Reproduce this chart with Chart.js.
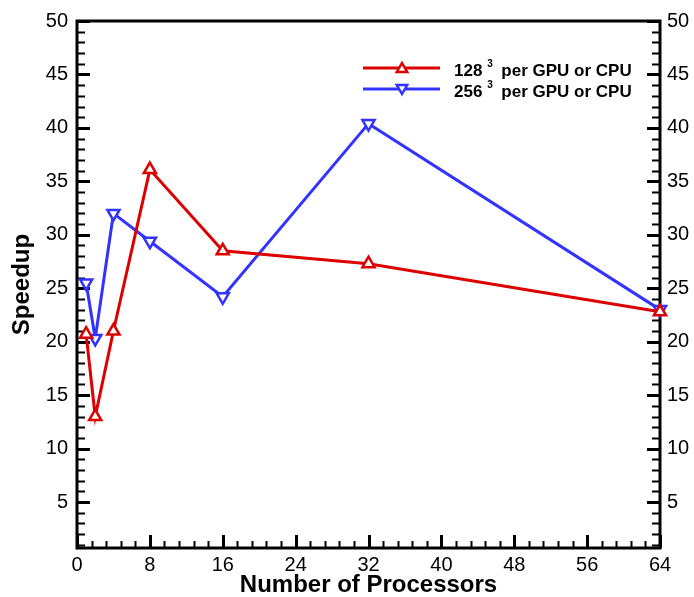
<!DOCTYPE html>
<html>
<head>
<meta charset="utf-8">
<script src="https://cdn.jsdelivr.net/npm/chart.js@4.4.1/dist/chart.umd.min.js"></script>
<style>
    html, body { margin: 0; padding: 0; background: #fff; }
    #speedupChart { display: block; }
</style>
</head>
<body>
<canvas id="speedupChart" width="694" height="597"></canvas>
<script>
const processors = [1, 2, 4, 8, 16, 32, 64]
const speedup128 = [20.7, 13.0, 21.0, 36.1, 28.5, 27.3, 22.8]
const speedup256 = [25.5, 20.3, 32.0, 29.4, 24.2, 40.4, 23.0]
const gridSizes = ['128', '256']
const legendSuffix = 'per GPU or CPU'
const xTickValues = [0, 8, 16, 24, 32, 40, 48, 56, 64]
const yTickValues = [5, 10, 15, 20, 25, 30, 35, 40, 45, 50]

const RED = '#dd0000'
const BLUE = '#3333ff'
const FONT = '"Liberation Sans", Arial, sans-serif'

const toPoints = (ys) => processors.map((x, i) => ({ x: x, y: ys[i] }))

function triangle(ctx, x, y, r, down) {
    const s = down ? -1 : 1
    ctx.beginPath()
    ctx.moveTo(x, y - s * r)
    ctx.lineTo(x + r * 0.866, y + s * r * 0.5)
    ctx.lineTo(x - r * 0.866, y + s * r * 0.5)
    ctx.closePath()
    ctx.fillStyle = '#fff'
    ctx.fill()
    ctx.stroke()
}

// frame + inward tick marks (major and minor) on left, right and bottom
const frameTicks = {
    id: 'frameTicks',
    beforeDatasetsDraw(chart) {
        const { ctx, chartArea: a, scales } = chart
        const xs = scales.x
        const ys = scales.y
        ctx.save()
        ctx.strokeStyle = '#000'
        ctx.lineCap = 'butt'

        ctx.lineWidth = 2
        for (let v = 1; v < 50; v++) {
            if (v % 5 === 0) continue
            const py = Math.round(ys.getPixelForValue(v)) + 0.5
            ctx.beginPath()
            ctx.moveTo(a.left, py); ctx.lineTo(a.left + 8, py)
            ctx.moveTo(a.right, py); ctx.lineTo(a.right - 8, py)
            ctx.stroke()
        }
        for (let k = 1; k < 40; k++) {
            if (k % 5 === 0) continue
            const px = Math.round(xs.getPixelForValue(k * 1.6)) + 0.5
            ctx.beginPath()
            ctx.moveTo(px, a.bottom); ctx.lineTo(px, a.bottom - 7)
            ctx.stroke()
        }

        ctx.lineWidth = 3
        yTickValues.forEach((v) => {
            const py = Math.round(ys.getPixelForValue(v)) + 0.5
            ctx.beginPath()
            ctx.moveTo(a.left, py); ctx.lineTo(a.left + 13, py)
            ctx.moveTo(a.right, py); ctx.lineTo(a.right - 13, py)
            ctx.stroke()
        })
        xTickValues.forEach((v) => {
            const px = Math.round(xs.getPixelForValue(v)) + 0.5
            ctx.beginPath()
            ctx.moveTo(px, a.bottom); ctx.lineTo(px, a.bottom - 13)
            ctx.stroke()
        })

        ctx.lineWidth = 3
        ctx.strokeRect(a.left, a.top, a.right - a.left, a.bottom - a.top)
        ctx.restore()
    }
}

// legend with a line sample, marker and superscript exponent
const sampleLegend = {
    id: 'sampleLegend',
    afterDraw(chart) {
        const { ctx, chartArea: a } = chart
        const colors = [RED, BLUE]
        const x0 = a.left + 286
        ctx.save()
        gridSizes.forEach((size, i) => {
            const y = a.top + 47 + i * 21
            ctx.strokeStyle = colors[i]
            ctx.lineWidth = 3
            ctx.beginPath()
            ctx.moveTo(x0, y); ctx.lineTo(x0 + 77, y)
            ctx.stroke()
            ctx.lineWidth = 2.5
            triangle(ctx, x0 + 39, y + (i ? -1 : 1), 6, i === 1)

            ctx.fillStyle = '#000'
            ctx.textBaseline = 'alphabetic'
            ctx.textAlign = 'left'
            ctx.font = 'bold 17px ' + FONT
            const tx = x0 + 91
            const by = y + 8
            ctx.fillText(size, tx, by)
            const w = ctx.measureText(size).width
            ctx.font = 'bold 10px ' + FONT
            ctx.fillText('3', tx + w + 5, by - 9)
            ctx.font = 'bold 17px ' + FONT
            ctx.fillText(legendSuffix, tx + w + 19, by)
        })
        ctx.restore()
    }
}

const tickFont = { family: FONT, size: 20 }
const titleFont = { family: FONT, size: 24, weight: 'bold', lineHeight: 1 }

new Chart(document.getElementById('speedupChart'), {
    type: 'line',
    data: {
        datasets: [
            {
                label: gridSizes[0] + '^3 ' + legendSuffix,
                data: toPoints(speedup128),
                borderColor: RED,
                borderWidth: 3,
                pointStyle: 'triangle',
                pointRadius: 7,
                pointBorderWidth: 2.5,
                pointBackgroundColor: '#fff',
                pointBorderColor: RED,
                clip: false
            },
            {
                label: gridSizes[1] + '^3 ' + legendSuffix,
                data: toPoints(speedup256),
                borderColor: BLUE,
                borderWidth: 3,
                pointStyle: 'triangle',
                pointRotation: 180,
                pointRadius: 7,
                pointBorderWidth: 2.5,
                pointBackgroundColor: '#fff',
                pointBorderColor: BLUE,
                clip: false
            }
        ]
    },
    options: {
        responsive: false,
        animation: false,
        layout: { padding: { top: 17, left: 0, right: 0, bottom: 0 } },
        plugins: {
            legend: { display: false },
            tooltip: { enabled: false }
        },
        scales: {
            x: {
                type: 'linear',
                min: 0,
                max: 64,
                afterBuildTicks: (s) => { s.ticks = xTickValues.map((v) => ({ value: v })) },
                afterFit: (s) => { s.height = 49 },
                grid: { display: false, drawTicks: false },
                border: { display: false },
                ticks: { color: '#000', font: tickFont, padding: 5, maxRotation: 0 },
                title: {
                    display: true,
                    text: 'Number of Processors',
                    color: '#000',
                    font: titleFont,
                    padding: { top: 0, bottom: 0 }
                }
            },
            y: {
                type: 'linear',
                position: 'left',
                min: 0.7,
                max: 50,
                afterBuildTicks: (s) => { s.ticks = yTickValues.map((v) => ({ value: v })) },
                afterFit: (s) => { s.width = 77 },
                grid: { display: false, drawTicks: false },
                border: { display: false },
                ticks: { color: '#000', font: tickFont, padding: 9 },
                title: {
                    display: true,
                    text: 'Speedup',
                    color: '#000',
                    font: titleFont,
                    padding: { top: 10, bottom: 0 }
                }
            },
            y2: {
                type: 'linear',
                position: 'right',
                min: 0.7,
                max: 50,
                afterBuildTicks: (s) => { s.ticks = yTickValues.map((v) => ({ value: v })) },
                afterFit: (s) => { s.width = 34 },
                grid: { display: false, drawTicks: false },
                border: { display: false },
                ticks: { color: '#000', font: tickFont, padding: 7 }
            }
        }
    },
    plugins: [frameTicks, sampleLegend]
})
</script>
</body>
</html>
